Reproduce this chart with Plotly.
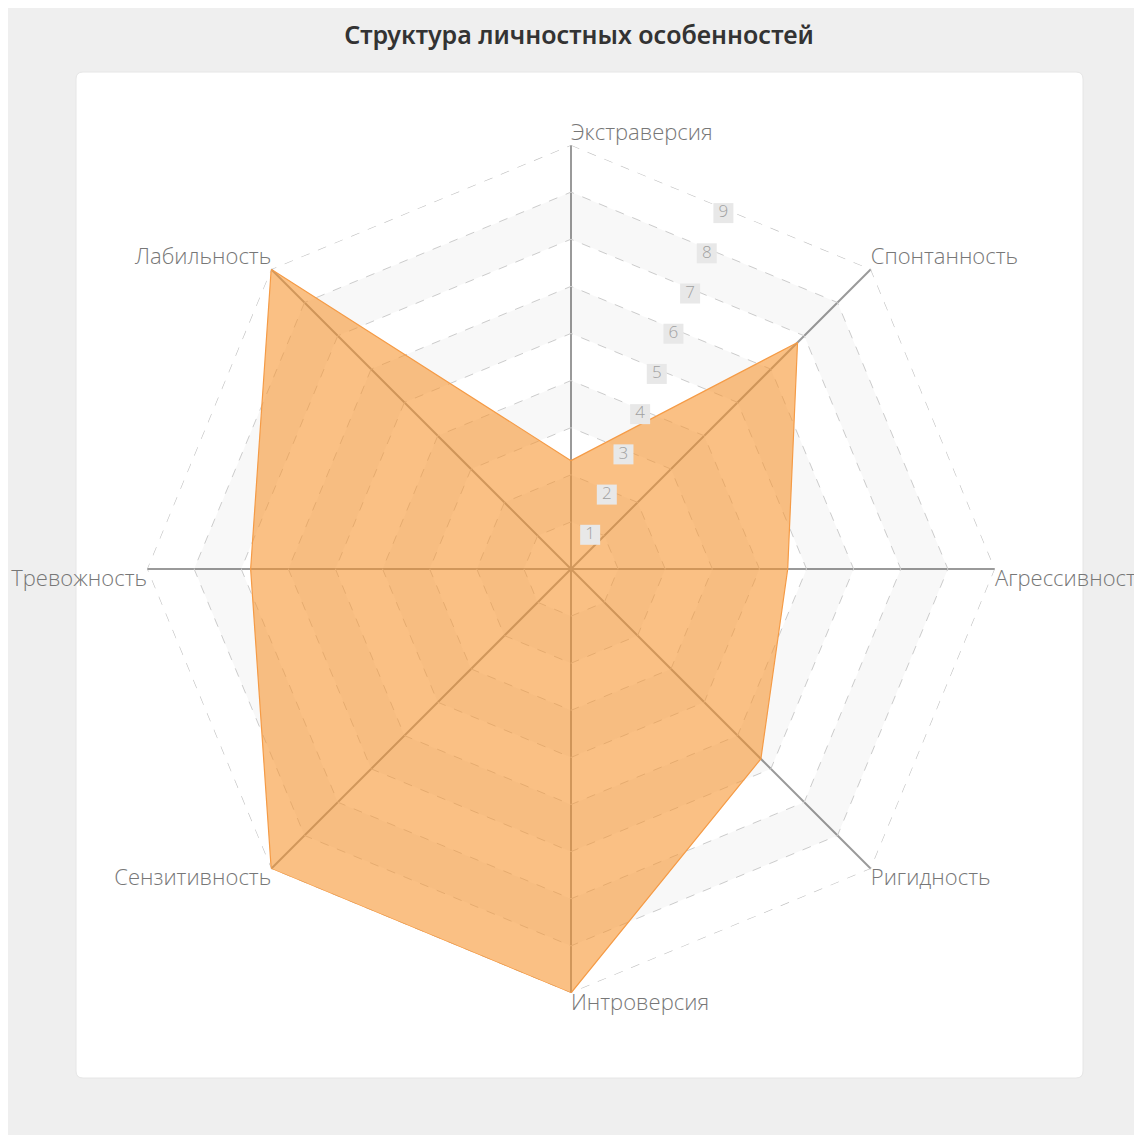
import math
import plotly.graph_objects as go

# ---- data ----
categories = ["Экстраверсия", "Спонтанность", "Агрессивность", "Ригидность",
              "Интроверсия", "Сензитивность", "Тревожность", "Лабильность"]
values = [2.3, 6.8, 4.6, 5.7, 9, 9, 6.8, 9]
tick_values = [1, 2, 3, 4, 5, 6, 7, 8, 9]
tick_labels = ["1", "2", "3", "4", "5", "6", "7", "8", "9"]
r_max = 9
title_text = "Структура личностных особенностей"
label_positions = ["top right", "top right", "bottom right", "bottom right",
                   "bottom right", "bottom left", "bottom left", "top left"]

W, H = 1134, 1127
cx, cy, R = 563, 561, 424  # in div pixels (from top-left)
dom_x = [(cx - R) / W, (cx + R) / W]
dom_y = [(H - cy - R) / H, (H - cy + R) / H]
# tick-label overlay, nudged a few px right/down
dom2_x = [d + 2.5 / W for d in dom_x]
dom2_y = [d - 6 / H for d in dom_y]

fig = go.Figure()

cats_closed = categories + [categories[0]]

# alternating bands (odd index bands shaded: 1-2, 3-4, 5-6, 7-8)
for k in range(1, r_max, 2):
    fig.add_trace(go.Scatterpolar(
        r=[k] * len(cats_closed), theta=cats_closed, mode="lines",
        line=dict(width=0, color="rgba(0,0,0,0)"), hoverinfo="skip",
        showlegend=False, subplot="polar"))
    fig.add_trace(go.Scatterpolar(
        r=[k + 1] * len(cats_closed), theta=cats_closed, mode="lines",
        line=dict(width=0, color="rgba(0,0,0,0)"), fill="tonext",
        fillcolor="rgba(0,0,0,0.028)", hoverinfo="skip",
        showlegend=False, subplot="polar"))

# outer dashed ring
fig.add_trace(go.Scatterpolar(
    r=[r_max] * len(cats_closed), theta=cats_closed, mode="lines",
    line=dict(width=1.2, color="#c2c2c2", dash="dash"), hoverinfo="skip",
    showlegend=False, subplot="polar"))

# data polygon
fig.add_trace(go.Scatterpolar(
    r=values + [values[0]], theta=cats_closed, mode="lines",
    line=dict(color="rgb(245,155,70)", width=1.2),
    fill="toself", fillcolor="rgba(247,150,50,0.6)",
    showlegend=False, subplot="polar", name=""))

# category labels
fig.add_trace(go.Scatterpolar(
    r=[r_max] * len(categories), theta=categories, mode="text",
    text=categories, textposition=label_positions,
    textfont=dict(family="Open Sans", size=22, color="#777777", weight=300),
    cliponaxis=False, hoverinfo="skip", showlegend=False, subplot="polar"))

# radial tick labels along the mid-ray between first two axes
mid_angle = 360 / len(categories) / 2
fig.add_trace(go.Scatterpolar(
    r=[v * math.cos(math.radians(mid_angle)) for v in tick_values],
    theta=[mid_angle] * len(tick_values), mode="markers+text",
    text=tick_labels, textposition="middle center",
    marker=dict(symbol="square", size=20, color="#e8e8e8"),
    textfont=dict(family="Open Sans", size=17, color="#a0a0a0", weight=300),
    cliponaxis=False, hoverinfo="skip", showlegend=False, subplot="polar2"))

# rounded white panel (pixel-based corner radius)
x0, x1 = 68 / W, 1075 / W
y0, y1 = 1 - 1070 / H, 1 - 64 / H
rx, ry = 7 / W, 7 / H
panel_path = (
    f"M {x0+rx},{y0} L {x1-rx},{y0} Q {x1},{y0} {x1},{y0+ry} "
    f"L {x1},{y1-ry} Q {x1},{y1} {x1-rx},{y1} "
    f"L {x0+rx},{y1} Q {x0},{y1} {x0},{y1-ry} "
    f"L {x0},{y0+ry} Q {x0},{y0} {x0+rx},{y0} Z"
)

fig.update_layout(
    width=W, height=H,
    margin=dict(l=0, r=0, t=0, b=0),
    paper_bgcolor="#efefef",
    title=dict(text=title_text, x=571 / W, y=1 - 27 / H, xanchor="center",
               yanchor="middle",
               font=dict(family="Noto Sans", size=25, color="#333333", weight=600)),
    polar=dict(
        domain=dict(x=dom_x, y=dom_y),
        bgcolor="white",
        gridshape="linear",
        angularaxis=dict(rotation=90, direction="clockwise", showline=False,
                         showticklabels=False, ticks="", showgrid=True,
                         gridcolor="#9a9a9a", gridwidth=1.5),
        radialaxis=dict(range=[0, r_max], tickvals=tick_values, showline=False,
                        showticklabels=False, ticks="", showgrid=True,
                        gridcolor="#cfcfcf", griddash="dash", gridwidth=1),
    ),
    polar2=dict(
        domain=dict(x=dom2_x, y=dom2_y),
        bgcolor="rgba(0,0,0,0)",
        angularaxis=dict(type="linear", thetaunit="degrees", rotation=90,
                         direction="clockwise", visible=False),
        radialaxis=dict(range=[0, r_max], visible=False),
    ),
    shapes=[dict(
        type="path", xref="paper", yref="paper", path=panel_path,
        fillcolor="white", line=dict(width=1, color="#e6e6e6"), layer="below")],
)

fig.write_html("out.html")
